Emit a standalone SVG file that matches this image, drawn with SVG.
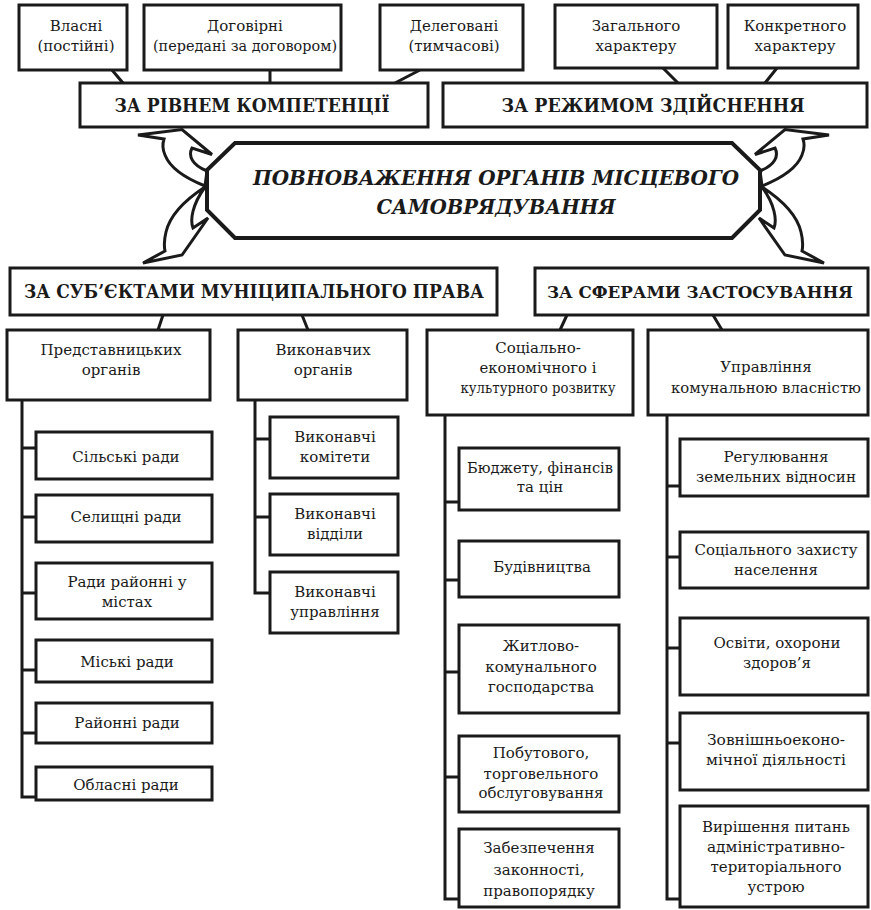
<svg xmlns="http://www.w3.org/2000/svg" width="871" height="910" viewBox="0 0 871 910">
<style>
.box{fill:#fff;stroke:#1a1a1a;stroke-width:3}
.ln{fill:none;stroke:#1a1a1a;stroke-width:3}
.arw{fill:#fff;stroke:#1a1a1a;stroke-width:3;stroke-linejoin:miter}
.hex{fill:#fff;stroke:#1a1a1a;stroke-width:4}
text{font-family:"DejaVu Serif","Liberation Serif",serif;fill:#1a1a1a;text-anchor:middle;font-size:15px}
.b{font-weight:bold;font-size:18px}
.bs{font-size:16px}
.bi{font-weight:bold;font-style:italic;font-size:21px}
</style>
<rect width="871" height="910" fill="#fff"/>
<g id="connectors">
<path class="ln" d="M112,70L123,83M270,70V83M420,70L395,83M663,68L678,83M777,68L765,83"/>
<path class="ln" d="M163,315L158,330M302,315L308,330M567,315L560,330M713,315L722,330"/>
<path class="ln" d="M22,400V797H36M22,448H36M22,517H36M22,593H36M22,670H36M22,733H36"/>
<path class="ln" d="M255,400V593H270M255,439H270M255,517H270"/>
<path class="ln" d="M445,415V899H459M445,502H459M445,580H459M445,672H459M445,777H459"/>
<path class="ln" d="M667,415V899H680M667,486H680M667,557H680M667,648H680M667,743H680"/>
</g>
<g id="n-vlasni"><rect class="box" x="19" y="5" width="108" height="65"/><text x="76" y="31">Власні</text><text x="76" y="51">(постійні)</text></g>
<g id="n-dogovirni"><rect class="box" x="144" y="5" width="197" height="65"/><text x="245" y="31">Договірні</text><text x="245" y="51" textLength="184" lengthAdjust="spacingAndGlyphs">(передані за договором)</text></g>
<g id="n-delegovani"><rect class="box" x="380" y="5" width="143" height="65"/><text x="454" y="31">Делеговані</text><text x="454" y="51">(тимчасові)</text></g>
<g id="n-zagalnogo"><rect class="box" x="555" y="5" width="162" height="63"/><text x="636" y="31">Загального</text><text x="636" y="51">характеру</text></g>
<g id="n-konkretnogo"><rect class="box" x="728" y="5" width="130" height="63"/><text x="795" y="31">Конкретного</text><text x="795" y="51">характеру</text></g>
<g id="n-rivnem"><rect class="box" x="80" y="83" width="348" height="44"/><text class="b" x="252" y="112" textLength="275" lengthAdjust="spacingAndGlyphs">ЗА РІВНЕМ КОМПЕТЕНЦІЇ</text></g>
<g id="n-rezhymom"><rect class="box" x="443" y="83" width="424" height="44"/><text class="b" x="653" y="112" textLength="303" lengthAdjust="spacingAndGlyphs">ЗА РЕЖИМОМ ЗДІЙСНЕННЯ</text></g>
<g id="arrows">
<path id="a-ul" class="arw" d="M138,135L182,129.5L212,154.5L192,148C188,156 192,165 207,171L205,186C185,178 170,168 165,155C162,148 163,142 164,139Z"/>
<path id="a-ll" class="arw" d="M143,263L182,255L208,218L193,228C190,220 192,205 205,187C185,200 170,215 166,232C164,240 164,246 165,251Z"/>
<g transform="matrix(-1,0,0,1,967,0)">
<path id="a-ur" class="arw" d="M138,135L182,129.5L212,154.5L192,148C188,156 192,165 207,171L205,186C185,178 170,168 165,155C162,148 163,142 164,139Z"/>
<path id="a-lr" class="arw" d="M143,263L182,255L208,218L193,228C190,220 192,205 205,187C185,200 170,215 166,232C164,240 164,246 165,251Z"/>
</g>
</g>
<g id="n-center"><path class="hex" d="M235,143H732L760,170V210L732,238H235L207,210V170Z"/><text class="bi" x="496" y="185" textLength="486" lengthAdjust="spacingAndGlyphs">ПОВНОВАЖЕННЯ ОРГАНІВ МІСЦЕВОГО</text><text class="bi" x="496" y="214" textLength="239" lengthAdjust="spacingAndGlyphs">САМОВРЯДУВАННЯ</text></g>
<g id="n-subiektamy"><rect class="box" x="10" y="268" width="487" height="47"/><text class="b" x="254" y="298" textLength="460" lengthAdjust="spacingAndGlyphs">ЗА СУБ’ЄКТАМИ МУНІЦИПАЛЬНОГО ПРАВА</text></g>
<g id="n-sferamy"><rect class="box" x="535" y="268" width="333" height="47"/><text class="b bs" x="700" y="298" textLength="306" lengthAdjust="spacingAndGlyphs">ЗА СФЕРАМИ ЗАСТОСУВАННЯ</text></g>
<g id="n-predst"><rect class="box" x="7" y="330" width="203" height="70"/><text x="111" y="355" textLength="141" lengthAdjust="spacingAndGlyphs">Представницьких</text><text x="111" y="375">органів</text></g>
<g id="n-vykon"><rect class="box" x="238" y="330" width="169" height="70"/><text x="323" y="355">Виконавчих</text><text x="323" y="375">органів</text></g>
<g id="n-socek"><rect class="box" x="427" y="330" width="206" height="85"/><text x="538" y="353">Соціально-</text><text x="538" y="373" textLength="117" lengthAdjust="spacingAndGlyphs">економічного і</text><text x="538" y="393" textLength="155" lengthAdjust="spacingAndGlyphs">культурного розвитку</text></g>
<g id="n-uprkom"><rect class="box" x="648" y="330" width="220" height="85"/><text x="766" y="372">Управління</text><text x="766" y="393" textLength="190" lengthAdjust="spacingAndGlyphs">комунальною власністю</text></g>
<g id="n-silski"><rect class="box" x="36" y="432" width="176" height="47"/><text x="126" y="462">Сільські ради</text></g>
<g id="n-selyshchni"><rect class="box" x="36" y="495" width="176" height="47"/><text x="126" y="522">Селищні ради</text></g>
<g id="n-raionni-mista"><rect class="box" x="36" y="563" width="176" height="56"/><text x="127" y="587">Ради районні у</text><text x="127" y="607">містах</text></g>
<g id="n-miski"><rect class="box" x="36" y="640" width="176" height="42"/><text x="127" y="667">Міські ради</text></g>
<g id="n-raionni"><rect class="box" x="36" y="703" width="176" height="40"/><text x="127" y="728">Районні ради</text></g>
<g id="n-oblasni"><rect class="box" x="36" y="767" width="176" height="33"/><text x="126" y="790">Обласні ради</text></g>
<g id="n-vk-komitety"><rect class="box" x="270" y="417" width="128" height="61"/><text x="335" y="442">Виконавчі</text><text x="335" y="462">комітети</text></g>
<g id="n-vk-viddily"><rect class="box" x="270" y="494" width="128" height="61"/><text x="335" y="519">Виконавчі</text><text x="335" y="539">відділи</text></g>
<g id="n-vk-upr"><rect class="box" x="270" y="572" width="128" height="61"/><text x="335" y="597">Виконавчі</text><text x="335" y="617">управління</text></g>
<g id="n-biudzhet"><rect class="box" x="459" y="448" width="160" height="62"/><text x="540" y="473" textLength="146" lengthAdjust="spacingAndGlyphs">Бюджету, фінансів</text><text x="540" y="492">та цін</text></g>
<g id="n-budivn"><rect class="box" x="459" y="541" width="160" height="56"/><text x="542" y="572">Будівництва</text></g>
<g id="n-zhytlovo"><rect class="box" x="459" y="625" width="160" height="88"/><text x="541" y="651">Житлово-</text><text x="541" y="672">комунального</text><text x="541" y="692">господарства</text></g>
<g id="n-pobut"><rect class="box" x="459" y="736" width="160" height="76"/><text x="541" y="758">Побутового,</text><text x="541" y="779">торговельного</text><text x="541" y="798" textLength="125" lengthAdjust="spacingAndGlyphs">обслуговування</text></g>
<g id="n-zabezp"><rect class="box" x="459" y="829" width="160" height="78"/><text x="539" y="853">Забезпечення</text><text x="539" y="875">законності,</text><text x="539" y="896">правопорядку</text></g>
<g id="n-zemel"><rect class="box" x="680" y="439" width="188" height="57"/><text x="776" y="462">Регулювання</text><text x="776" y="482" textLength="160" lengthAdjust="spacingAndGlyphs">земельних відносин</text></g>
<g id="n-sotszakh"><rect class="box" x="680" y="532" width="188" height="56"/><text x="776" y="555" textLength="163" lengthAdjust="spacingAndGlyphs">Соціального захисту</text><text x="776" y="575">населення</text></g>
<g id="n-osvity"><rect class="box" x="680" y="618" width="188" height="77"/><text x="777" y="648">Освіти, охорони</text><text x="777" y="668">здоров’я</text></g>
<g id="n-zovn"><rect class="box" x="680" y="713" width="188" height="77"/><text x="776" y="745" textLength="138" lengthAdjust="spacingAndGlyphs">Зовнішньоеконо-</text><text x="776" y="765" textLength="140" lengthAdjust="spacingAndGlyphs">мічної діяльності</text></g>
<g id="n-adm"><rect class="box" x="680" y="806" width="188" height="101"/><text x="776" y="832" textLength="148" lengthAdjust="spacingAndGlyphs">Вирішення питань</text><text x="776" y="852" textLength="138" lengthAdjust="spacingAndGlyphs">адміністративно-</text><text x="776" y="872">територіального</text><text x="776" y="892">устрою</text></g>
</svg>
